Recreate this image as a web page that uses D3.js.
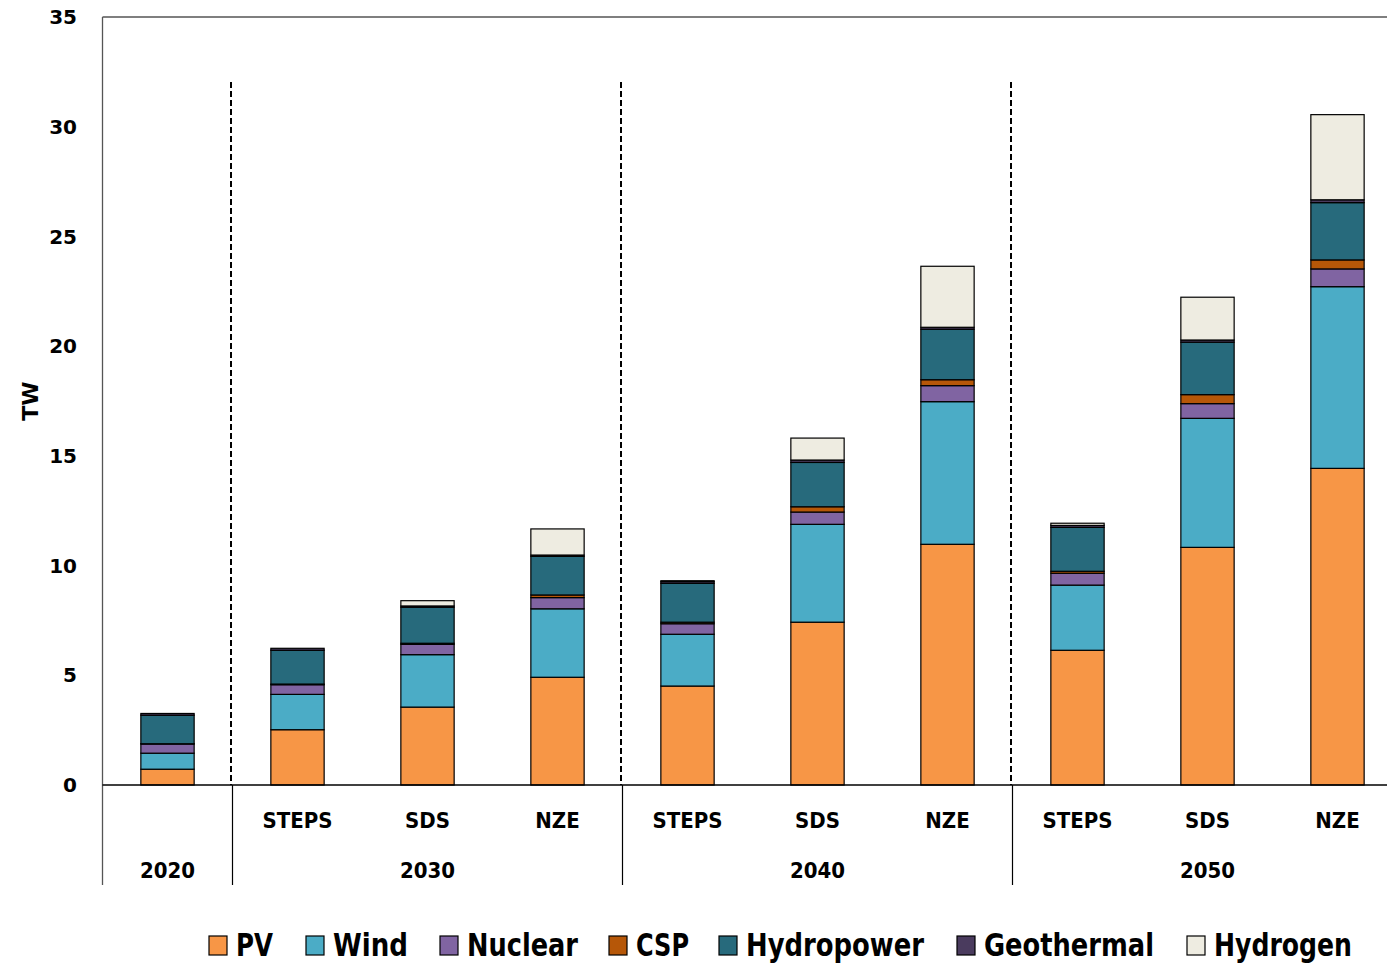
<!DOCTYPE html>
<html>
<head>
<meta charset="utf-8">
<script src="https://cdn.jsdelivr.net/npm/d3@7"></script>
<style>
  body { margin: 0; background: #fff; }
  svg { display: block; }
  .tick-lbl { font-family: "DejaVu Sans", Verdana, sans-serif; font-weight: bold; font-size: 20px; fill: #000; }
  .cat-lbl { font-family: "DejaVu Sans Condensed", "DejaVu Sans", sans-serif; font-weight: bold; font-size: 22px; fill: #000; }
  .leg-lbl { font-family: "DejaVu Sans Condensed", "DejaVu Sans", sans-serif; font-weight: bold; font-size: 32px; fill: #000; }
</style>
</head>
<body>
<div id="chart"></div>
<script>
// bars, left to right
var scenarios = ['', 'STEPS', 'SDS', 'NZE', 'STEPS', 'SDS', 'NZE', 'STEPS', 'SDS', 'NZE'];
var years = ['2020', '2030', '2040', '2050'];
var yearSpan = [1, 3, 3, 3];   // bars per year group

var techs = ['PV', 'Wind', 'Nuclear', 'CSP', 'Hydropower', 'Geothermal', 'Hydrogen'];
var techColors = ['#F79646', '#4BACC6', '#8064A2', '#B65708', '#276A7C', '#4A3B5E', '#EEECE1'];

// TW, one value per bar
var pv         = [0.72, 2.52, 3.55, 4.91, 4.51, 7.42, 10.97, 6.14, 10.83, 14.43];
var wind       = [0.73, 1.61, 2.39, 3.12, 2.36, 4.46, 6.50, 2.97, 5.88, 8.28];
var nuclear    = [0.42, 0.44, 0.47, 0.51, 0.48, 0.56, 0.73, 0.54, 0.67, 0.81];
var csp        = [0.01, 0.03, 0.05, 0.12, 0.07, 0.24, 0.27, 0.09, 0.41, 0.41];
var hydro      = [1.30, 1.54, 1.64, 1.76, 1.77, 2.02, 2.30, 2.00, 2.39, 2.61];
var geothermal = [0.08, 0.09, 0.06, 0.06, 0.08, 0.11, 0.09, 0.09, 0.10, 0.13];
var hydrogen   = [0.00, 0.00, 0.24, 1.19, 0.04, 1.00, 2.78, 0.10, 1.95, 3.88];

var yTicks = [0, 5, 10, 15, 20, 25, 30, 35];

var width = 1387, height = 963;
var margins = {top: 17, left: 102.5, bottom: 178};
var plotRight = 102.5 + 1300;   // last slot runs past the picture edge

var rows = scenarios.map(function (s, i) {
  return {i: i, PV: pv[i], Wind: wind[i], Nuclear: nuclear[i], CSP: csp[i],
    Hydropower: hydro[i], Geothermal: geothermal[i], Hydrogen: hydrogen[i]};
});

var svg = d3.select('#chart').append('svg')
  .attr('width', width)
  .attr('height', height);

var x = d3.scaleBand()
  .domain(d3.range(scenarios.length))
  .range([margins.left, plotRight])
  .paddingInner(0.59)
  .paddingOuter(0.295);

var y = d3.scaleLinear()
  .domain([0, 35])
  .range([785, margins.top]);

var color = d3.scaleOrdinal().domain(techs).range(techColors);
var step = x.step();

// frame: left axis line and top border
svg.append('line')
  .attr('x1', margins.left).attr('x2', margins.left)
  .attr('y1', y(35)).attr('y2', 885)
  .attr('stroke', '#555').attr('stroke-width', 1.3);
svg.append('line')
  .attr('x1', margins.left).attr('x2', width)
  .attr('y1', y(35)).attr('y2', y(35))
  .attr('stroke', '#555').attr('stroke-width', 1.3);

// y tick labels, centred on the value
svg.append('g').selectAll('text')
  .data(yTicks)
  .join('text')
  .attr('class', 'tick-lbl')
  .attr('x', 77)
  .attr('y', function (d) { return y(d); })
  .attr('dy', '0.36em')
  .attr('text-anchor', 'end')
  .text(function (d) { return d; });

svg.append('text')
  .attr('class', 'tick-lbl')
  .attr('transform', 'translate(38,' + 401 + ') rotate(-90)')
  .attr('text-anchor', 'middle')
  .style('font-size', '22px')
  .text('TW');

// year group boundaries
var bounds = [];
var acc = 0;
yearSpan.forEach(function (n) { bounds.push(acc); acc += n; });
var inner = bounds.slice(1);

svg.append('g').selectAll('line')
  .data(inner)
  .join('line')
  .attr('x1', function (d) { return margins.left + d * step - 1.5; })
  .attr('x2', function (d) { return margins.left + d * step - 1.5; })
  .attr('y1', 82).attr('y2', y(0))
  .attr('stroke', '#000').attr('stroke-width', 2)
  .attr('stroke-dasharray', '6,3');

svg.append('g').selectAll('line')
  .data(inner)
  .join('line')
  .attr('x1', function (d) { return margins.left + d * step; })
  .attr('x2', function (d) { return margins.left + d * step; })
  .attr('y1', y(0)).attr('y2', 885)
  .attr('stroke', '#000').attr('stroke-width', 1.2);

// stacked bars
var stack = d3.stack().keys(techs)(rows);

svg.append('g').selectAll('g')
  .data(stack)
  .join('g')
  .attr('fill', function (d) { return color(d.key); })
  .selectAll('rect')
  .data(function (d) { return d; })
  .join('rect')
  .attr('x', function (d) { return x(d.data.i); })
  .attr('width', x.bandwidth())
  .attr('y', function (d) { return y(d[1]); })
  .attr('height', function (d) { return y(d[0]) - y(d[1]); })
  .attr('stroke', '#000')
  .attr('stroke-width', 1.2);

// x axis line
svg.append('line')
  .attr('x1', margins.left).attr('x2', width)
  .attr('y1', y(0)).attr('y2', y(0))
  .attr('stroke', '#000').attr('stroke-width', 1.5);

// scenario labels
svg.append('g').selectAll('text')
  .data(scenarios)
  .join('text')
  .attr('class', 'cat-lbl')
  .attr('x', function (d, i) { return x(i) + x.bandwidth() / 2; })
  .attr('y', 828)
  .attr('text-anchor', 'middle')
  .text(function (d) { return d; });

// year labels
svg.append('g').selectAll('text')
  .data(years)
  .join('text')
  .attr('class', 'cat-lbl')
  .attr('x', function (d, i) { return margins.left + (bounds[i] + yearSpan[i] / 2) * step; })
  .attr('y', 878)
  .attr('text-anchor', 'middle')
  .text(function (d) { return d; });

// legend (the source font is narrow, so squeeze text to its width)
var legX = [209, 306, 440, 609, 719, 957, 1187];
var legW = [37, 75, 111, 53, 178, 170, 138];
var leg = svg.append('g').selectAll('g')
  .data(techs)
  .join('g')
  .attr('transform', function (d, i) { return 'translate(' + legX[i] + ',936)'; });

leg.append('rect')
  .attr('width', 18).attr('height', 19)
  .attr('fill', function (d) { return color(d); })
  .attr('stroke', '#000').attr('stroke-width', 1.2);

leg.append('text')
  .attr('class', 'leg-lbl')
  .attr('x', 27)
  .attr('y', 20)
  .attr('textLength', function (d, i) { return legW[i]; })
  .attr('lengthAdjust', 'spacingAndGlyphs')
  .text(function (d) { return d; });
</script>
</body>
</html>
